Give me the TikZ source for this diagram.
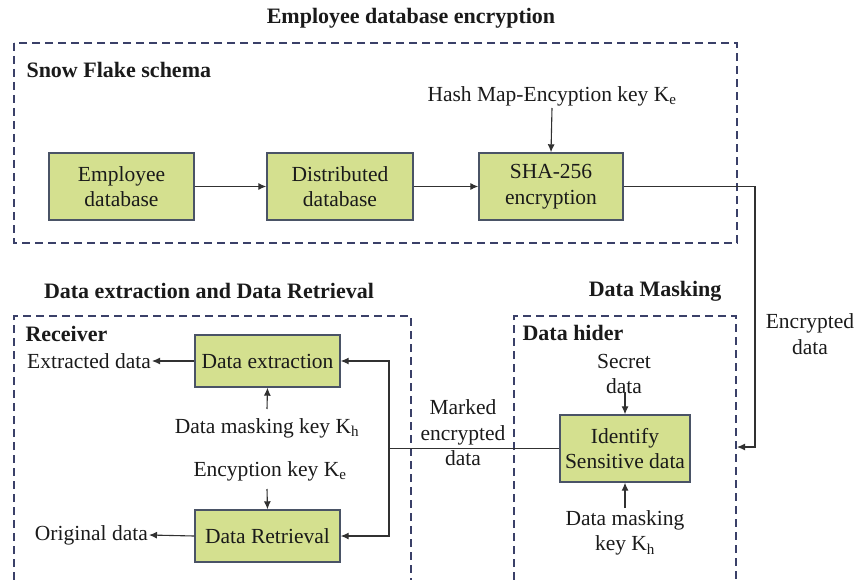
\documentclass[tikz,border=0pt]{standalone}
\usepackage{fontspec}
\setmainfont{Liberation Serif}
\usetikzlibrary{arrows.meta,calc}
\definecolor{boxfill}{HTML}{D4E08F}
\definecolor{boxline}{HTML}{4A5366}
\definecolor{dashline}{HTML}{3A4068}
\definecolor{txt}{HTML}{1A1A1A}
\begin{document}
\begin{tikzpicture}[x=1pt,y=-1pt,
  font=\rmfamily\fontsize{21.5}{25.5}\selectfont, text=txt,
  procbox/.style={draw=boxline, fill=boxfill, line width=1.4pt, align=center, inner sep=0pt},
  groupbox/.style={draw=dashline, line width=1.2pt, dash pattern=on 8pt off 5pt},
  titletext/.style={font=\rmfamily\fontsize{22}{25}\selectfont\bfseries},
  lbl/.style={align=center, inner sep=1pt},
  conn/.style={draw=txt!90, line width=1.1pt},
  arr/.style={conn, -{Latex[length=8pt,width=7pt]}}]
\useasboundingbox (0,0) rectangle (858,580);
% group frames
\draw[groupbox] (14,43) rectangle (737,243);
\draw[groupbox] (14,580) -- (14,316) -- (411,316) -- (411,580);
\draw[groupbox] (514,580) -- (514,316) -- (736,316) -- (736,580);
% titles
\node[titletext] (t1) at (411,18) {Employee database encryption};
\node[titletext, anchor=west] (t2) at (23,70) {Snow Flake schema};
\node[titletext] (t3) at (209,291) {Data extraction and Data Retrieval};
\node[titletext, anchor=east] (t4) at (725,291) {Data Masking};
\node[titletext, anchor=west] (t5) at (22,334) {Receiver};
\node[titletext, anchor=west] (t6) at (519,333) {Data hider};
% process boxes
\node[procbox, minimum width=145pt, minimum height=67pt] (emp) at (121.5,186.5) {Employee\\database};
\node[procbox, minimum width=146pt, minimum height=67pt] (dist) at (340,186.5) {Distributed\\database};
\node[procbox, minimum width=144pt, minimum height=67pt] (sha) at (551,186.5) {SHA-256\\encryption};
\node[procbox, minimum width=145pt, minimum height=52pt] (dext) at (267.5,361) {Data extraction};
\node[procbox, minimum width=145pt, minimum height=52pt] (dret) at (267.5,536) {Data Retrieval};
\node[procbox, minimum width=130pt, minimum height=67pt] (ident) at (625,448.5) {Identify\\Sensitive data};
% labels
\node[lbl] (hash) at (552,96) {Hash Map-Encyption key K\textsubscript{e}};
\node[lbl, anchor=east] (extr) at (152,361) {Extracted data};
\node[lbl, anchor=east] (orig) at (149,535) {Original data};
\node[lbl] (dmk1) at (267,428) {Data masking key K\textsubscript{h}};
\node[lbl] (enck) at (270,471) {Encyption key K\textsubscript{e}};
\node[lbl] (marked) at (463,433) {Marked\\encrypted\\data};
\node[lbl] (secret) at (624,374) {Secret\\data};
\node[lbl] (dmk2) at (625,533) {Data masking\\key K\textsubscript{h}};
\node[lbl] (encd) at (810,334) {Encrypted\\data};
% coordinates
\coordinate (turn) at (755,186.5);
\coordinate (hin) at (737,447);
\coordinate (join) at (389,448.5);
\coordinate (hashfoot) at (552,108);
\coordinate (dmk1top) at (267,409);
\coordinate (enckfoot) at (267,489);
\coordinate (secfoot) at (625,392);
\coordinate (dmk2top) at (625,508);
% connectors
\draw[arr] (emp) -- (dist);
\draw[arr] (dist) -- (sha);
\draw[arr] (hashfoot) -- (sha.north);
\draw[arr] (sha.east) -- (turn) |- (hin);
\draw[conn] (ident.west) -- (join);
\draw[arr] (join) |- (dext.east);
\draw[arr] (join) |- (dret.east);
\draw[arr] (dext.west) -- (extr.east);
\draw[arr] (dret.west) -- (orig.east);
\draw[arr] (dmk1top) -- (dext.south);
\draw[arr] (enckfoot) -- (dret.north);
\draw[arr] (secfoot) -- (ident.north);
\draw[arr] (dmk2top) -- (ident.south);
\end{tikzpicture}
\end{document}
